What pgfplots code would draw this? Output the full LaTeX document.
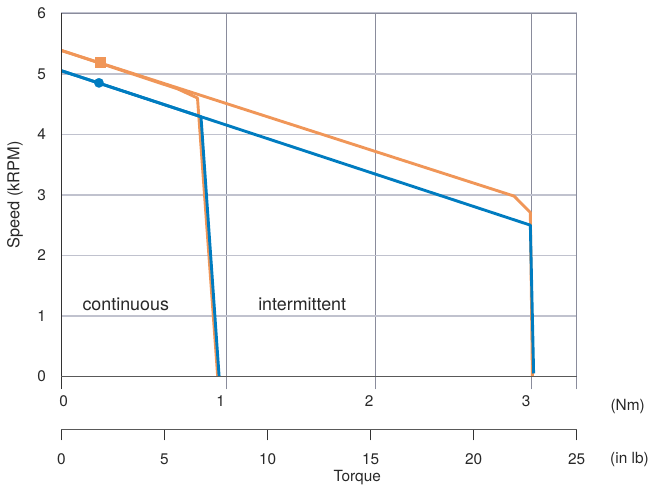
\documentclass[border=0pt]{standalone}
\usepackage{fontspec}
\setmainfont{TeX Gyre Heros}
\usepackage{pgfplots}
\pgfplotsset{compat=1.18}
\definecolor{corange}{RGB}{240,150,88}
\definecolor{cblue}{RGB}{0,124,192}
\definecolor{gridh}{RGB}{192,194,206}
\definecolor{gridv}{RGB}{138,140,156}
\definecolor{txt}{RGB}{40,40,40}
\begin{document}
\begin{tikzpicture}
\path (-61.7bp,-113bp) rectangle (590.3bp,378bp);
\begin{axis}[
  name=ax, at={(0,0)}, anchor=south west,
  scale only axis, width=517.3bp, height=364.7bp,
  xmin=0, xmax=25, ymin=0, ymax=6,
  clip=false,
  axis line style={draw=gridv, line width=1.1bp},
  xtick={0,8.01,15.22,22.79,25}, xticklabels={},
  xtick pos=bottom, ytick pos=left,
  extra x ticks={0.11,7.73,14.93,22.55},
  extra x tick labels={0,1,2,3},
  extra x tick style={grid=none, major tick length=0pt, xticklabel style={yshift=-16bp}},
  ytick={0,1,2,3,4,5,6},
  xmajorgrids, ymajorgrids,
  x grid style={gridv, line width=1bp},
  y grid style={gridh, line width=1.6bp},
  tick align=outside,
  major tick length=13bp,
  x tick style={draw=gridv, line width=1bp},
  y tick style={draw=none},
  tick label style={font=\fontsize{15.5}{17}\selectfont, text=txt},
  /pgf/number format/assume math mode=true,
  yticklabel style={xshift=1bp},
  ylabel={Speed (kRPM)},
  ylabel style={at={(rel axis cs:-0.0903,0.5)}, anchor=center, font=\fontsize{16.5}{18}\selectfont, text=txt},
]
% orange: continuous and intermittent
\addplot[corange, line width=2.9bp, line join=round] coordinates {(0,5.385) (5.64,4.75) (6.60,4.60) (7.58,0)};
\addplot[corange, line width=2.9bp, line join=round] coordinates {(0,5.385) (21.96,2.98) (22.75,2.71) (22.85,0)};
\addplot[corange, only marks, mark=square*, mark size=5bp, mark options={solid, fill=corange, draw=corange, line width=0.1bp}] coordinates {(1.85,5.19)};
% blue: continuous and intermittent
\addplot[cblue, line width=2.9bp, line join=round] coordinates {(0,5.05) (6.77,4.29) (7.65,0)};
\addplot[cblue, line width=2.9bp, line join=round] coordinates {(0,5.05) (22.75,2.50) (22.91,0.05)};
\addplot[cblue, only marks, mark=*, mark size=4.8bp, mark options={solid, fill=cblue, draw=cblue, line width=0.1bp}] coordinates {(1.82,4.85)};
% axis lines
\draw[black!80, line width=1.3bp] (rel axis cs:0,1) -- (rel axis cs:0,0) -- ++(0,-13bp);
\draw[black!65, line width=1.3bp] (rel axis cs:0,0) -- (rel axis cs:1,0);
\node[font=\fontsize{18}{20}\selectfont, text=txt] at (axis cs:3.12,1.2) {continuous};
\node[font=\fontsize{18}{20}\selectfont, text=txt] at (axis cs:11.68,1.2) {intermittent};
\node[font=\fontsize{15.5}{17}\selectfont, text=txt] at (axis cs:27.47,0) [yshift=-30bp] {(Nm)};
\end{axis}
\begin{axis}[
  at={(0,-53bp)}, anchor=south west,
  scale only axis, width=517.3bp, height=5bp,
  xmin=0, xmax=25, ymin=0, ymax=1,
  clip=false,
  hide y axis,
  axis x line*=bottom,
  x axis line style={-, draw=black!65, line width=1.3bp},
  xtick={0,5,10,15,20,25},
  tick align=outside,
  major tick length=11bp,
  x tick style={draw=black!80, line width=1.2bp},
  tick label style={font=\fontsize{15.5}{17}\selectfont, text=txt},
  xticklabel style={yshift=-10bp},
  /pgf/number format/assume math mode=true,
]
\addplot[draw=none] coordinates {(0,0) (25,0)};
\node[font=\fontsize{15.5}{17}\selectfont, text=txt] at (axis cs:27.56,0) [yshift=-30bp] {(in lb)};
\node[font=\fontsize{15.5}{17}\selectfont, text=txt] at (axis cs:14.35,0) [yshift=-48bp] {Torque};
\end{axis}
\end{tikzpicture}
\end{document}
